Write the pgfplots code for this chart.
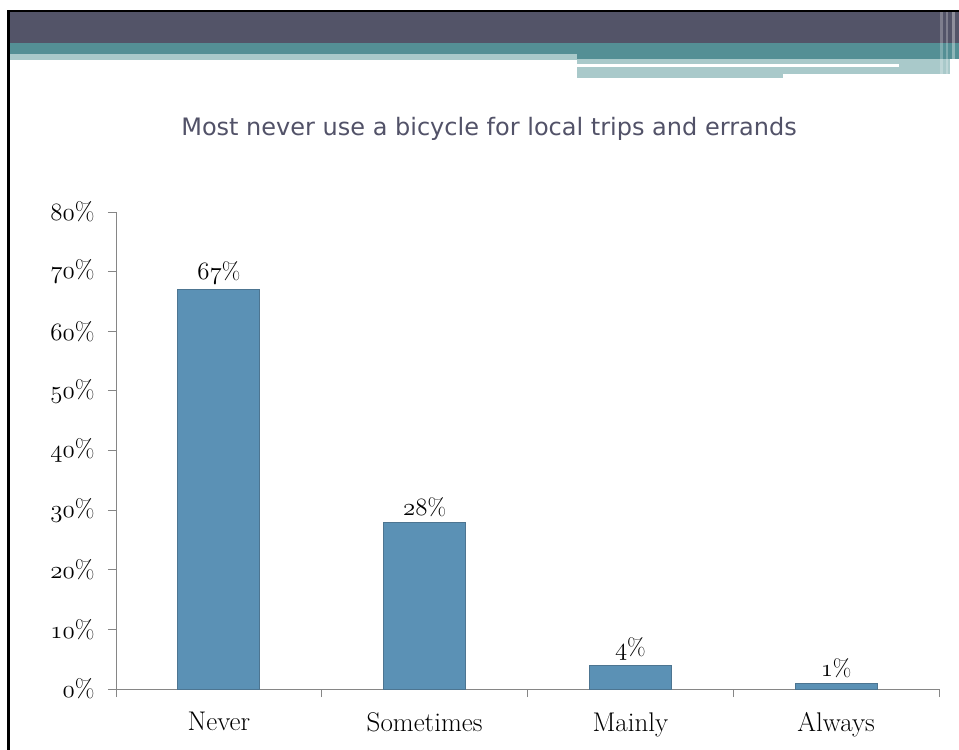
\documentclass[border=0pt]{standalone}
\usepackage{pgfplots}
\pgfplotsset{compat=1.18}
\usepackage{fontspec}
\newfontfamily\titlefont{DejaVu Sans}
% old-style figures from the Latin Modern math italic font
\newcommand\osf[1]{{\usefont{OML}{lmm}{m}{it}#1}}
\definecolor{hdark}{HTML}{535468}
\definecolor{hteal}{HTML}{548F95}
\definecolor{hlight}{HTML}{A9C9CA}
\definecolor{barfill}{HTML}{5B91B5}
\definecolor{barline}{HTML}{4D7591}
\definecolor{axgrey}{HTML}{868686}
\definecolor{titlecol}{HTML}{525268}
\begin{document}
\begin{tikzpicture}[x=1pt,y=1pt]
\useasboundingbox (0,0) rectangle (959,750);
\fill[white] (0,0) rectangle (959,750);
% slide header, Y = 750 - y(px)
\fill[black] (7,740) rectangle (959,738);
\fill[black] (7,0) rectangle (10,740);
\fill[hdark] (10,738) rectangle (959,707);
\fill[hteal] (10,707) rectangle (959,696);
\fill[hteal] (577,696) rectangle (959,691);
\fill[hlight] (10,696) rectangle (577,690);
\fill[hlight] (577,691) rectangle (950,676);
\fill[hlight] (577,676) rectangle (783,672);
\fill[white] (577,686) rectangle (899,683);
\fill[white, opacity=0.25] (940,738) rectangle (943,672);
\fill[white, opacity=0.25] (946,738) rectangle (948,672);
\fill[white, opacity=0.35] (952,738) rectangle (955,672);
\node[text=titlecol, font=\titlefont\fontsize{24}{28}\selectfont] at (489,621)
  {Most never use a bicycle for local trips and errands};
\begin{axis}[
  at={(116pt,61pt)}, anchor=south west,
  scale only axis, width=823pt, height=477pt,
  xmin=-0.5, xmax=3.5, ymin=0, ymax=80,
  axis x line*=bottom, axis y line*=left,
  axis line style={axgrey, line width=1pt},
  tick style={axgrey, line width=1pt},
  tick align=outside, major tick length=8pt,
  xtick={-0.5,0.5,1.5,2.5,3.5},
  x tick label as interval,
  xticklabels={Never,Sometimes,Mainly,Always},
  ytick={0,10,20,30,40,50,60,70,80},
  yticklabels={\osf{0}\%,\osf{10}\%,\osf{20}\%,\osf{30}\%,\osf{40}\%,\osf{50}\%,\osf{60}\%,\osf{70}\%,\osf{80}\%},
  yticklabel style={font=\fontsize{25.5}{30}\selectfont, black, xshift=-10pt},
  xticklabel style={font=\fontsize{27}{32}\selectfont, black, yshift=-12pt},
  ybar, bar width=82pt,
  point meta=explicit symbolic,
  nodes near coords={\expandafter\osf\expandafter{\pgfplotspointmeta}\%},
  every node near coord/.append style={font=\fontsize{24}{28}\selectfont, black, yshift=1pt},
]
\addplot[fill=barfill, draw=barline, line width=0.8pt]
  coordinates {(0,67) [67] (1,28) [28] (2,4) [4] (3,1) [1]};
\end{axis}
\end{tikzpicture}
\end{document}
